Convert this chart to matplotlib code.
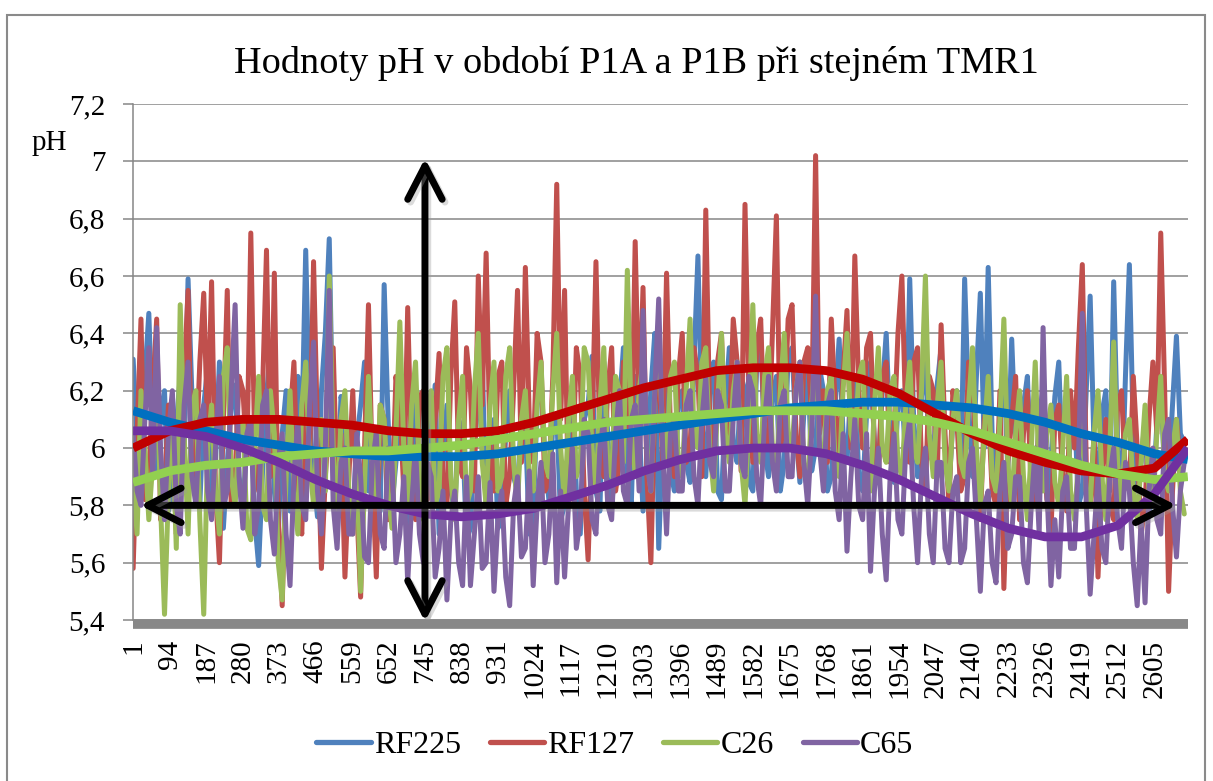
#!/usr/bin/env python3
"""pH values in periods P1A and P1B at the same TMR1 (Excel-style line chart)."""

import matplotlib
matplotlib.use("Agg")
import matplotlib.pyplot as plt
import numpy as np
from matplotlib.patches import FancyArrowPatch, Rectangle
from matplotlib import patheffects

# ---- data -------------------------------------------------------------
N_CATEGORIES = 2690
STEP = 10  # values read every 10th measurement

RF225 = [
    6.31, 6.02, 5.95, 6.25, 6.47, 6.05, 5.90, 6.12, 6.20, 5.78,
    5.85, 6.08, 6.25, 6.00, 6.59, 6.18, 5.88, 5.80, 6.15, 6.28,
    5.82, 5.95, 6.30, 5.72, 5.95, 6.14, 6.22, 5.90, 5.80, 6.02,
    6.10, 5.75, 5.59, 5.92, 6.18, 6.35, 5.85, 5.70, 6.05, 6.20,
    5.78, 5.92, 6.25, 6.05, 6.69, 6.10, 5.90, 5.76, 6.20, 6.40,
    6.73, 6.00, 5.82, 6.18, 6.10, 5.80, 5.75, 6.02, 6.15, 6.30,
    5.85, 5.98, 6.05, 5.78, 6.57, 6.10, 5.80, 5.95, 6.12, 6.25,
    5.72, 5.90, 6.20, 5.82, 5.85, 6.10, 6.00, 6.22, 5.70, 5.95,
    6.15, 5.85, 5.78, 6.10, 6.05, 5.68, 5.72, 6.00, 6.18, 6.30,
    5.80, 5.95, 6.10, 5.72, 5.75, 6.05, 6.20, 5.90, 5.85, 6.12,
    6.08, 5.70, 5.76, 6.15, 6.25, 5.95, 5.82, 6.08, 6.12, 5.75,
    5.80, 6.00, 6.22, 5.85, 5.70, 6.10, 6.15, 6.32, 5.85, 5.78,
    6.30, 6.05, 5.80, 5.95, 6.15, 6.35, 5.90, 5.80, 6.25, 6.08,
    5.78, 5.95, 6.20, 6.40, 5.65, 6.05, 6.30, 5.92, 5.85, 6.15,
    6.20, 5.95, 5.88, 6.30, 6.67, 6.10, 5.90, 6.20, 6.30, 5.85,
    5.82, 6.15, 6.35, 6.02, 5.95, 6.25, 6.20, 5.88, 5.85, 6.30,
    6.40, 6.00, 5.90, 6.18, 6.25, 5.85, 5.95, 6.32, 6.35, 6.05,
    5.88, 6.12, 6.30, 5.92, 6.00, 6.28, 6.20, 5.85, 5.90, 6.15,
    6.38, 6.05, 5.95, 6.22, 6.25, 5.90, 5.85, 6.12, 6.30, 6.02,
    5.92, 6.20, 6.40, 6.05, 5.88, 6.15, 6.20, 5.95, 6.59, 6.10,
    5.90, 6.18, 6.30, 5.98, 5.95, 6.22, 6.35, 6.00, 5.85, 6.10,
    6.20, 5.88, 6.59, 6.15, 5.90, 6.25, 6.54, 6.00, 6.63, 6.05,
    5.85, 6.10, 6.30, 5.92, 6.38, 6.02, 5.90, 6.15, 6.25, 5.88,
    5.80, 6.12, 6.20, 5.82, 5.95, 6.18, 6.30, 5.90, 5.82, 6.05,
    6.15, 5.80, 5.85, 6.20, 6.53, 6.00, 5.90, 6.12, 6.20, 5.85,
    6.58, 6.02, 5.80, 6.25, 6.64, 6.05, 5.85, 5.95, 6.10, 5.78,
    5.82, 6.08, 6.20, 5.92, 5.90, 6.15, 6.39, 6.05, 6.02,
]
RF127 = [
    5.58, 6.05, 6.45, 5.82, 5.90, 6.20, 6.45, 5.75, 5.85, 6.15,
    6.10, 5.70, 5.80, 6.25, 6.55, 5.90, 5.95, 6.30, 6.54, 6.05,
    6.58, 5.85, 5.60, 6.10, 6.55, 5.80, 5.90, 6.25, 6.20, 5.95,
    6.75, 6.00, 5.85, 6.20, 6.69, 5.90, 6.61, 5.75, 5.45, 5.95,
    6.10, 6.30, 5.80, 5.70, 6.20, 5.95, 6.65, 6.05, 5.58, 5.90,
    6.10, 6.35, 5.85, 6.05, 5.55, 5.90, 6.20, 5.80, 5.48, 6.00,
    6.50, 5.90, 5.55, 6.15, 6.10, 5.75, 5.80, 6.25, 6.15, 5.85,
    6.49, 5.95, 5.75, 6.18, 6.20, 5.82, 5.85, 6.10, 6.33, 5.90,
    5.80, 6.25, 6.51, 5.95, 5.90, 6.35, 6.20, 5.85, 6.60, 6.15,
    6.68, 6.00, 5.85, 6.25, 6.30, 5.80, 5.90, 6.20, 6.55, 5.95,
    6.63, 6.10, 5.95, 6.40, 6.30, 5.85, 5.88, 6.25, 6.92, 6.10,
    6.55, 5.80, 5.90, 6.35, 6.25, 5.85, 5.61, 6.05, 6.65, 6.00,
    5.90, 6.20, 6.35, 5.85, 5.95, 6.30, 6.20, 5.95, 6.72, 6.10,
    6.56, 5.90, 5.60, 6.15, 6.30, 5.95, 6.61, 6.05, 5.90, 6.25,
    6.40, 5.95, 6.00, 6.35, 6.25, 5.90, 6.83, 6.10, 5.95, 6.30,
    6.40, 5.98, 6.05, 6.45, 6.30, 5.92, 6.85, 6.15, 5.95, 6.35,
    6.45, 6.02, 6.00, 6.40, 6.81, 6.00, 6.10, 6.45, 6.50, 6.05,
    5.90, 6.30, 6.35, 6.10, 7.02, 6.05, 6.20, 5.95, 6.45, 6.15,
    5.95, 6.25, 6.48, 6.00, 6.67, 6.20, 6.00, 6.35, 6.40, 6.00,
    5.90, 6.25, 6.30, 5.95, 6.05, 6.40, 6.60, 6.10, 5.95, 6.30,
    6.35, 5.95, 5.85, 6.25, 6.20, 5.90, 6.43, 6.05, 5.80, 6.20,
    6.10, 5.85, 5.90, 6.30, 6.25, 5.90, 5.75, 6.10, 6.15, 5.85,
    5.80, 6.20, 5.51, 5.95, 6.10, 6.25, 5.75, 6.05, 6.20, 5.85,
    5.80, 6.10, 6.05, 5.82, 5.70, 6.10, 6.15, 5.90, 5.78, 6.20,
    6.00, 6.35, 6.64, 5.95, 5.80, 6.05, 5.55, 5.90, 6.10, 5.80,
    5.75, 6.15, 6.20, 5.90, 5.85, 6.25, 6.00, 5.70, 5.80, 6.10,
    6.30, 6.05, 6.75, 6.20, 5.50, 5.85, 6.10, 5.95, 6.02,
]
C26 = [
    5.90, 5.70, 6.20, 6.00, 5.75, 5.95, 6.30, 5.80, 5.42, 5.85,
    6.10, 5.65, 6.50, 6.05, 5.70, 6.15, 6.20, 5.75, 5.42, 6.00,
    6.15, 5.85, 5.70, 6.25, 6.35, 5.90, 5.80, 6.05, 6.10, 5.72,
    5.68, 6.00, 6.25, 5.80, 5.75, 6.20, 6.05, 5.60, 5.47, 5.90,
    6.20, 5.85, 5.70, 6.15, 6.30, 5.95, 5.80, 6.05, 6.10, 5.85,
    6.60, 6.00, 5.75, 6.10, 6.20, 5.85, 5.70, 5.95, 5.50, 5.88,
    6.25, 5.95, 5.80, 6.15, 6.10, 5.85, 5.72, 6.05, 6.44, 6.00,
    5.80, 6.15, 6.30, 5.90, 5.75, 6.10, 6.20, 5.80, 5.85, 6.25,
    6.35, 5.90, 5.75, 6.10, 6.25, 5.80, 5.85, 6.20, 6.40, 5.95,
    5.80, 6.15, 6.30, 5.85, 5.90, 6.25, 6.35, 5.95, 5.80, 6.10,
    6.20, 5.90, 5.85, 6.15, 6.30, 5.95, 5.90, 6.20, 6.40, 6.00,
    5.80, 6.10, 6.25, 5.90, 5.95, 6.35, 6.30, 6.00, 5.85, 6.15,
    6.35, 5.95, 5.90, 6.25, 6.20, 5.95, 6.62, 6.10, 5.90, 6.20,
    6.30, 6.00, 5.85, 6.20, 6.40, 6.05, 5.95, 6.25, 6.30, 5.95,
    5.90, 6.20, 6.45, 6.05, 6.00, 6.30, 6.35, 6.00, 5.85, 6.15,
    6.40, 6.05, 5.95, 6.20, 6.30, 5.95, 5.80, 6.10, 6.50, 6.05,
    5.95, 6.25, 6.35, 6.00, 5.90, 6.20, 6.40, 6.05, 6.00, 6.20,
    6.30, 5.95, 5.85, 6.15, 6.35, 6.00, 5.95, 6.20, 6.25, 5.95,
    5.90, 6.20, 6.40, 6.05, 6.00, 6.25, 6.30, 5.95, 5.85, 6.15,
    6.35, 6.00, 5.95, 6.20, 6.25, 5.95, 5.90, 6.15, 6.30, 6.00,
    5.95, 6.20, 6.60, 6.05, 5.90, 6.15, 6.30, 5.95, 5.85, 6.10,
    6.20, 5.95, 5.90, 6.15, 6.35, 6.00, 5.80, 6.05, 6.25, 5.90,
    5.85, 6.10, 6.45, 5.95, 5.80, 6.05, 6.20, 5.90, 5.75, 6.00,
    6.30, 5.90, 5.85, 6.05, 6.15, 5.88, 5.80, 6.00, 6.25, 5.85,
    5.75, 5.95, 6.10, 5.85, 5.80, 6.05, 6.20, 5.90, 5.75, 6.00,
    6.37, 5.95, 5.80, 6.05, 6.10, 5.85, 5.75, 5.95, 6.15, 5.85,
    5.80, 6.05, 6.25, 5.90, 5.85, 6.00, 6.10, 5.85, 5.77,
]
C65 = [
    6.05, 5.85, 5.80, 6.10, 6.35, 5.90, 6.42, 6.00, 5.75, 6.05,
    6.20, 5.80, 5.70, 6.15, 6.30, 5.90, 5.80, 6.10, 6.15, 5.85,
    5.75, 6.00, 6.25, 5.80, 5.85, 6.20, 6.50, 5.90, 5.72, 6.05,
    6.10, 5.70, 5.80, 6.15, 6.20, 5.75, 5.63, 5.95, 6.05, 5.70,
    5.52, 5.90, 6.10, 5.80, 5.75, 6.15, 6.37, 5.85, 5.70, 6.00,
    6.55, 5.80, 5.65, 5.95, 6.00, 5.70, 5.70, 6.05, 5.90, 5.62,
    5.60, 5.95, 6.05, 5.70, 5.65, 6.00, 5.95, 5.60, 5.70, 5.90,
    5.53, 5.80, 6.00, 5.70, 5.60, 5.95, 5.90, 5.55, 5.65, 5.85,
    5.47, 5.75, 5.85, 5.60, 5.52, 5.90, 5.52, 5.70, 5.90, 5.58,
    5.60, 5.88, 5.50, 5.75, 5.85, 5.55, 5.45, 5.80, 5.90, 5.62,
    5.65, 5.92, 5.52, 5.80, 5.95, 5.60, 5.70, 5.98, 5.53, 5.85,
    5.55, 5.80, 6.00, 5.65, 5.75, 6.10, 6.05, 5.75, 5.70, 6.00,
    6.10, 5.80, 5.75, 6.05, 6.20, 5.85, 5.80, 6.10, 6.15, 5.85,
    6.48, 5.95, 5.85, 6.20, 6.52, 6.00, 5.70, 6.05, 6.10, 5.85,
    5.85, 6.15, 6.20, 5.90, 5.80, 6.10, 6.25, 5.95, 5.90, 6.20,
    6.15, 5.85, 5.85, 6.10, 6.30, 5.95, 5.90, 6.25, 6.20, 5.90,
    5.80, 6.10, 6.25, 5.95, 5.85, 6.15, 6.20, 5.90, 5.90, 6.20,
    6.30, 5.95, 5.80, 6.05, 6.53, 6.00, 5.85, 6.15, 6.20, 5.85,
    5.75, 6.05, 5.64, 5.90, 6.10, 5.80, 5.75, 6.05, 5.57, 5.85,
    6.00, 5.70, 5.54, 5.90, 6.05, 5.75, 5.70, 6.00, 6.10, 5.80,
    5.60, 5.90, 6.00, 5.70, 5.60, 5.95, 5.95, 5.65, 5.60, 5.85,
    5.90, 5.60, 5.65, 5.95, 6.00, 5.75, 5.50, 5.80, 5.85, 5.60,
    5.53, 5.85, 5.95, 5.65, 5.70, 5.90, 5.90, 5.60, 5.53, 5.80,
    6.00, 5.70, 6.42, 5.85, 5.52, 5.75, 5.55, 5.85, 5.90, 5.65,
    5.65, 5.95, 6.47, 5.80, 5.49, 5.70, 5.90, 5.65, 5.60, 5.90,
    6.00, 5.75, 5.65, 5.95, 5.85, 5.60, 5.45, 5.75, 5.46, 5.85,
    6.00, 5.75, 5.70, 6.05, 6.10, 5.80, 5.62, 5.85, 5.95,
]

# polynomial trend lines, read at every tick label (1, 94, ... 2605) and at the last point
TREND_IDX = [1, 94, 187, 280, 373, 466, 559, 652, 745, 838, 931, 1024, 1117, 1210,
             1303, 1396, 1489, 1582, 1675, 1768, 1861, 1954, 2047, 2140, 2233, 2326,
             2419, 2512, 2605, 2690]
TREND_RF225 = [6.13, 6.09, 6.06, 6.03, 6.01, 5.99, 5.98, 5.97, 5.97, 5.97, 5.98, 6.00,
               6.02, 6.04, 6.06, 6.08, 6.10, 6.12, 6.14, 6.15, 6.16, 6.16, 6.15, 6.14,
               6.12, 6.09, 6.05, 6.02, 5.98, 5.96]
TREND_RF127 = [6.00, 6.06, 6.09, 6.10, 6.10, 6.09, 6.08, 6.06, 6.05, 6.05, 6.06, 6.09,
               6.13, 6.17, 6.21, 6.24, 6.27, 6.28, 6.28, 6.27, 6.24, 6.19, 6.12, 6.05,
               5.99, 5.95, 5.92, 5.91, 5.93, 6.03]
TREND_C26 = [5.88, 5.92, 5.94, 5.95, 5.97, 5.98, 5.99, 5.99, 6.00, 6.01, 6.03, 6.05,
             6.07, 6.09, 6.10, 6.11, 6.12, 6.13, 6.13, 6.13, 6.12, 6.11, 6.09, 6.06,
             6.02, 5.98, 5.94, 5.91, 5.89, 5.90]
TREND_C65 = [6.06, 6.06, 6.04, 6.00, 5.95, 5.89, 5.84, 5.80, 5.77, 5.76, 5.77, 5.79,
             5.83, 5.87, 5.92, 5.96, 5.99, 6.00, 6.00, 5.98, 5.94, 5.89, 5.83, 5.77,
             5.72, 5.69, 5.69, 5.73, 5.84, 6.00]

XTICK_LABELS = [str(v) for v in TREND_IDX[:-1]]
YTICKS = [5.4, 5.6, 5.8, 6.0, 6.2, 6.4, 6.6, 6.8, 7.0, 7.2]
YTICK_LABELS = ["5,4", "5,6", "5,8", "6", "6,2", "6,4", "6,6", "6,8", "7", "7,2"]

SERIES = [
    ("RF225", RF225, TREND_RF225, "#4F81BD", "#0070C0"),
    ("RF127", RF127, TREND_RF127, "#C0504D", "#C00000"),
    ("C26", C26, TREND_C26, "#9BBB59", "#92D050"),
    ("C65", C65, TREND_C65, "#8064A2", "#7030A0"),
]

# the two marker arrows drawn over the chart
ARROW_V_AT = 745
ARROW_V_SPAN = (5.385, 7.02)
ARROW_H_AT = 5.8
ARROW_H_SPAN = (12, 2668)

GRAY = "#868686"

plt.rcParams["font.family"] = ["Liberation Serif", "DejaVu Serif"]

fig = plt.figure(figsize=(12.13, 7.81), dpi=100)
ax = fig.add_axes([0.1096, 0.2061, 0.8698, 0.6607])

x = np.arange(1, N_CATEGORIES + 1, STEP)
for name, vals, trend, col, tcol in SERIES:
    ax.plot(x, vals, color=col, lw=3.6, solid_joinstyle="round",
            solid_capstyle="round", zorder=2, label=name)
for name, vals, trend, col, tcol in SERIES:
    ax.plot(TREND_IDX, trend, color=tcol, lw=6.3, solid_capstyle="butt",
            solid_joinstyle="round", zorder=3)

ax.set_xlim(0.5, N_CATEGORIES + 0.5)
ax.set_ylim(5.4, 7.2)
ax.set_yticks(YTICKS)
ax.set_yticklabels(YTICK_LABELS)
ax.set_xticks(TREND_IDX[:-1])
ax.set_xticklabels(XTICK_LABELS)
ax.tick_params(axis="x", length=0, pad=11, labelsize=21, labelrotation=90)
ax.tick_params(axis="y", length=7, width=1.1, color=GRAY, pad=13, labelsize=21)

ax.grid(axis="y", color=GRAY, lw=1.1)
ax.set_axisbelow(True)
for side in ("top", "right"):
    ax.spines[side].set_visible(False)
ax.spines["left"].set_color(GRAY)
ax.spines["left"].set_linewidth(1.1)
ax.spines["bottom"].set_color("#888888")
ax.spines["bottom"].set_linewidth(7.0)
ax.spines["bottom"].set_position(("outward", 3))
ax.spines["bottom"].set_capstyle("butt")

shadow = [patheffects.Stroke(offset=(2, -2), linewidth=5.0, foreground="#999999", alpha=0.35),
          patheffects.Normal()]
for start, end in [((ARROW_V_AT, ARROW_V_SPAN[0]), (ARROW_V_AT, ARROW_V_SPAN[1])),
                   ((ARROW_H_SPAN[0], ARROW_H_AT), (ARROW_H_SPAN[1], ARROW_H_AT))]:
    arr = FancyArrowPatch(start, end, arrowstyle="<->,head_length=1.2,head_width=0.62",
                          mutation_scale=20, color="black", lw=5.0,
                          capstyle="round", joinstyle="round", zorder=6, clip_on=False)
    arr.set_path_effects(shadow)
    ax.add_patch(arr)

fig.text(0.525, 0.9065, "Hodnoty pH v období P1A a P1B při stejném TMR1",
         ha="center", va="baseline", fontsize=27.5)
fig.text(0.026, 0.808, "pH", ha="left", va="baseline", fontsize=21)

fig.legend(loc="center", bbox_to_anchor=(0.507, 0.046), ncol=4, frameon=False,
           fontsize=23, handlelength=1.7, handletextpad=0.1, columnspacing=0.9)
for ln in fig.legends[0].get_lines():
    ln.set_linewidth(3.8)

fig.add_artist(Rectangle((7 / 1213, -0.1), 1198 / 1213, 1.1 - 15 / 781,
                         transform=fig.transFigure, fill=False,
                         edgecolor="#8a8a8a", lw=1.5))

fig.savefig("out.png", dpi=100)
